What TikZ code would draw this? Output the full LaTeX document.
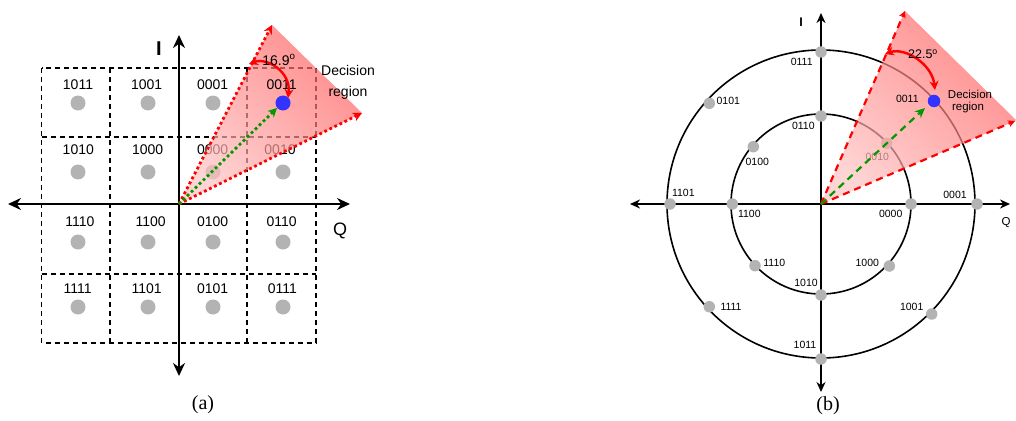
\documentclass[tikz,border=0pt]{standalone}
\usepackage{fontspec}
\setmainfont{Liberation Serif}
\setsansfont{Liberation Sans}
\usetikzlibrary{arrows.meta}
\definecolor{dotgray}{HTML}{B3B3B3}
\definecolor{regred}{HTML}{FF3333}
\definecolor{arrred}{HTML}{FF0000}
\definecolor{grn}{HTML}{009900}
\definecolor{blu}{HTML}{3333FF}
\begin{document}
\begin{tikzpicture}[x=1pt,y=-1pt,
  laba/.style={font=\sffamily\fontsize{14}{16}\selectfont, inner sep=0pt},
  labb/.style={font=\sffamily\fontsize{10.5}{12}\selectfont, inner sep=0pt},
  gdota/.style={circle, fill=dotgray, inner sep=0pt, minimum size=15pt},
  gdotb/.style={circle, fill=dotgray, inner sep=0pt, minimum size=11.5pt},
  bdota/.style={circle, fill=blu, inner sep=0pt, minimum size=15pt},
  bdotb/.style={circle, fill=blu, inner sep=0pt, minimum size=12.5pt},
  axa/.style={line width=2pt, {Stealth[length=13pt,width=12pt]}-{Stealth[length=13pt,width=12pt]}},
  axb/.style={line width=1.6pt, {Stealth[length=10pt,width=9pt]}-{Stealth[length=10pt,width=9pt]}},
  gridl/.style={line width=1.4pt, dash pattern=on 5pt off 4pt},
  circl/.style={line width=1.6pt},
  region/.style={fill opacity=0.7, bottom color=regred!30, top color=regred!80, shading angle=-45},
  dotred/.style={arrred, line width=2.8pt, dash pattern=on 2.8pt off 2.8pt, -{Stealth[length=9pt,width=9pt]}},
  dotgrn/.style={grn, line width=2.8pt, dash pattern=on 2.8pt off 2.8pt, -{Stealth[length=9pt,width=9pt]}},
  dashred/.style={arrred, line width=2.2pt, dash pattern=on 7pt off 5pt, -{Stealth[length=7pt,width=7pt]}},
  dashgrn/.style={grn, line width=2.2pt, dash pattern=on 7pt off 5pt, -{Stealth[length=10pt,width=9pt]}},
  anglearr/.style={arrred, line width=2.4pt, {Stealth[length=9pt,width=9pt]}-{Stealth[length=9pt,width=9pt]}},
  capt/.style={font=\rmfamily\fontsize{20}{22}\selectfont, inner sep=0pt}
]
\useasboundingbox (0,0) rectangle (1016,420);

%%%%%%%%%%%%%%%% (a) %%%%%%%%%%%%%%%%
% dashed grid
\draw[gridl] (41.7,68) rectangle (316,343);
\draw[gridl] (41.7,137) -- (316,137);
\draw[gridl] (41.7,274) -- (316,274);
\draw[gridl] (110,68) -- (110,343);
\draw[gridl] (247,68) -- (247,343);

% dots and labels
\foreach \lx/\ly/\dx/\dy/\t/\n in {
  78/85/78/103/1011/a1, 146.7/85/148/103/1001/a2, 212.7/85/213/103/0001/a3,
  78.3/150/78/172/1010/a5, 147.7/150/148/172/1000/a6, 212.7/150/213/172/0000/a7, 280/150/283/172/0010/a8,
  80/222/78/242/1110/a9, 150.7/222/148/242/1100/a10, 212.7/222/213/242/0100/a11, 281.7/222/283/242/0110/a12,
  77.7/289/78/307/1111/a13, 146.7/289/148/307/1101/a14, 212.7/289/213/307/0101/a15, 282.3/289/283/307/0111/a16}
{
  \node[gdota] (d\n) at (\dx,\dy) {};
  \node[laba] (l\n) at (\lx,\ly) {\t};
}

% axes
\coordinate (aL) at (8,204);
\coordinate (aR) at (350,204);
\coordinate (aT) at (179,35);
\coordinate (aB) at (179,376);
\draw[axa] (aL) -- (aR);
\draw[axa] (aB) -- (aT);
\node[font=\sffamily\bfseries\fontsize{20}{21}\selectfont, inner sep=0pt] (lI) at (159,49) {I};
\node[font=\sffamily\fontsize{18}{19}\selectfont, inner sep=0pt] (lQ) at (340,231) {Q};

% decision region
\coordinate (oA) at (179,204);
\coordinate (tA) at (272,25);
\coordinate (rA) at (362,113);
\shade[region] (oA) -- (tA) -- (rA) -- cycle;
\draw[dotred] (oA) -- (tA);
\draw[dotred] (oA) -- (rA);
\node[laba] (la4) at (281.7,85) {0011};
\node[bdota] (bA) at (283,103) {};
\coordinate (gA) at (277,108);
\draw[dotgrn] (oA) -- (gA);
\coordinate (sA) at (249,64);
\coordinate (eA) at (288,98);
\draw[anglearr] (sA) .. controls (267,57) and (291,72) .. (eA);
\node[laba] (angA) at (279,60) {16.9\textsuperscript{o}};
\node[laba] (decA) at (348,70) {Decision};
\node[laba] (regA) at (348,93) {region};
\node[capt] (capA) at (203,405) {(a)};

%%%%%%%%%%%%%%%% (b) %%%%%%%%%%%%%%%%
\coordinate (oB) at (821,204);
\draw[circl] (oB) circle[radius=154pt];
\draw[circl] (oB) circle[radius=90pt];
\coordinate (bL) at (630,204);
\coordinate (bR) at (1010,204);
\coordinate (bT) at (821,13);
\coordinate (bBt) at (821,392);
\draw[axb] (bL) -- (bR);
\draw[axb] (bBt) -- (bT);
\node[font=\sffamily\bfseries\fontsize{12.5}{13}\selectfont, inner sep=0pt] (lIb) at (801,22) {I};
\node[font=\sffamily\fontsize{11.5}{12}\selectfont, inner sep=0pt] (lQb) at (1006,223) {Q};

\foreach \dx/\dy/\lx/\ly/\t/\n in {
  821/52/801.7/61.7/0111/b1, 709.3/103.3/728.3/101/0101/b2, 670/204/683.3/192.7/1101/b3,
  977/204/955/195/0001/b4, 709.3/306.7/731/307.3/1111/b5, 821/359/805/345/1011/b6,
  931.7/314/911.7/307.3/1001/b7,
  821/116/803.3/126/0110/b8, 753.3/146.7/757.3/161.7/0100/b9, 886.7/143.3/877.3/156.7/0010/b10,
  732.3/204/749.3/214/1100/b11, 911/204/890.7/214/0000/b12, 755/265.7/774.3/262.7/1110/b13,
  889.3/266/867.3/262.7/1000/b14, 821/295/806/283.3/1010/b15}
{
  \node[gdotb] (e\n) at (\dx,\dy) {};
  \node[labb] (m\n) at (\lx,\ly) {\t};
}

% decision region
\coordinate (tB) at (905,11);
\coordinate (rB) at (1015,121);
\shade[region] (oB) -- (tB) -- (1016,120) -- (rB) -- cycle;
\draw[dashred] (oB) -- (tB);
\draw[dashred] (oB) -- (rB);
\node[labb] (m0011) at (907.3,99) {0011};
\node[bdotb] (bB) at (934,101) {};
\coordinate (gB) at (925,108);
\draw[dashgrn] (oB) -- (gB);
\coordinate (sB) at (885,54);
\coordinate (eB) at (935,90);
\draw[anglearr] (sB) .. controls (905,47) and (932,64) .. (eB);
\node[labb, font=\sffamily\fontsize{12.5}{14}\selectfont] (angB) at (923,54) {22.5\textsuperscript{o}};
\node[labb, font=\sffamily\fontsize{11.5}{13}\selectfont] (decB) at (970,94) {Decision};
\node[labb, font=\sffamily\fontsize{11.5}{13}\selectfont] (regB) at (968,108) {region};
\node[capt] (capB) at (828,406) {(b)};
\end{tikzpicture}
\end{document}
